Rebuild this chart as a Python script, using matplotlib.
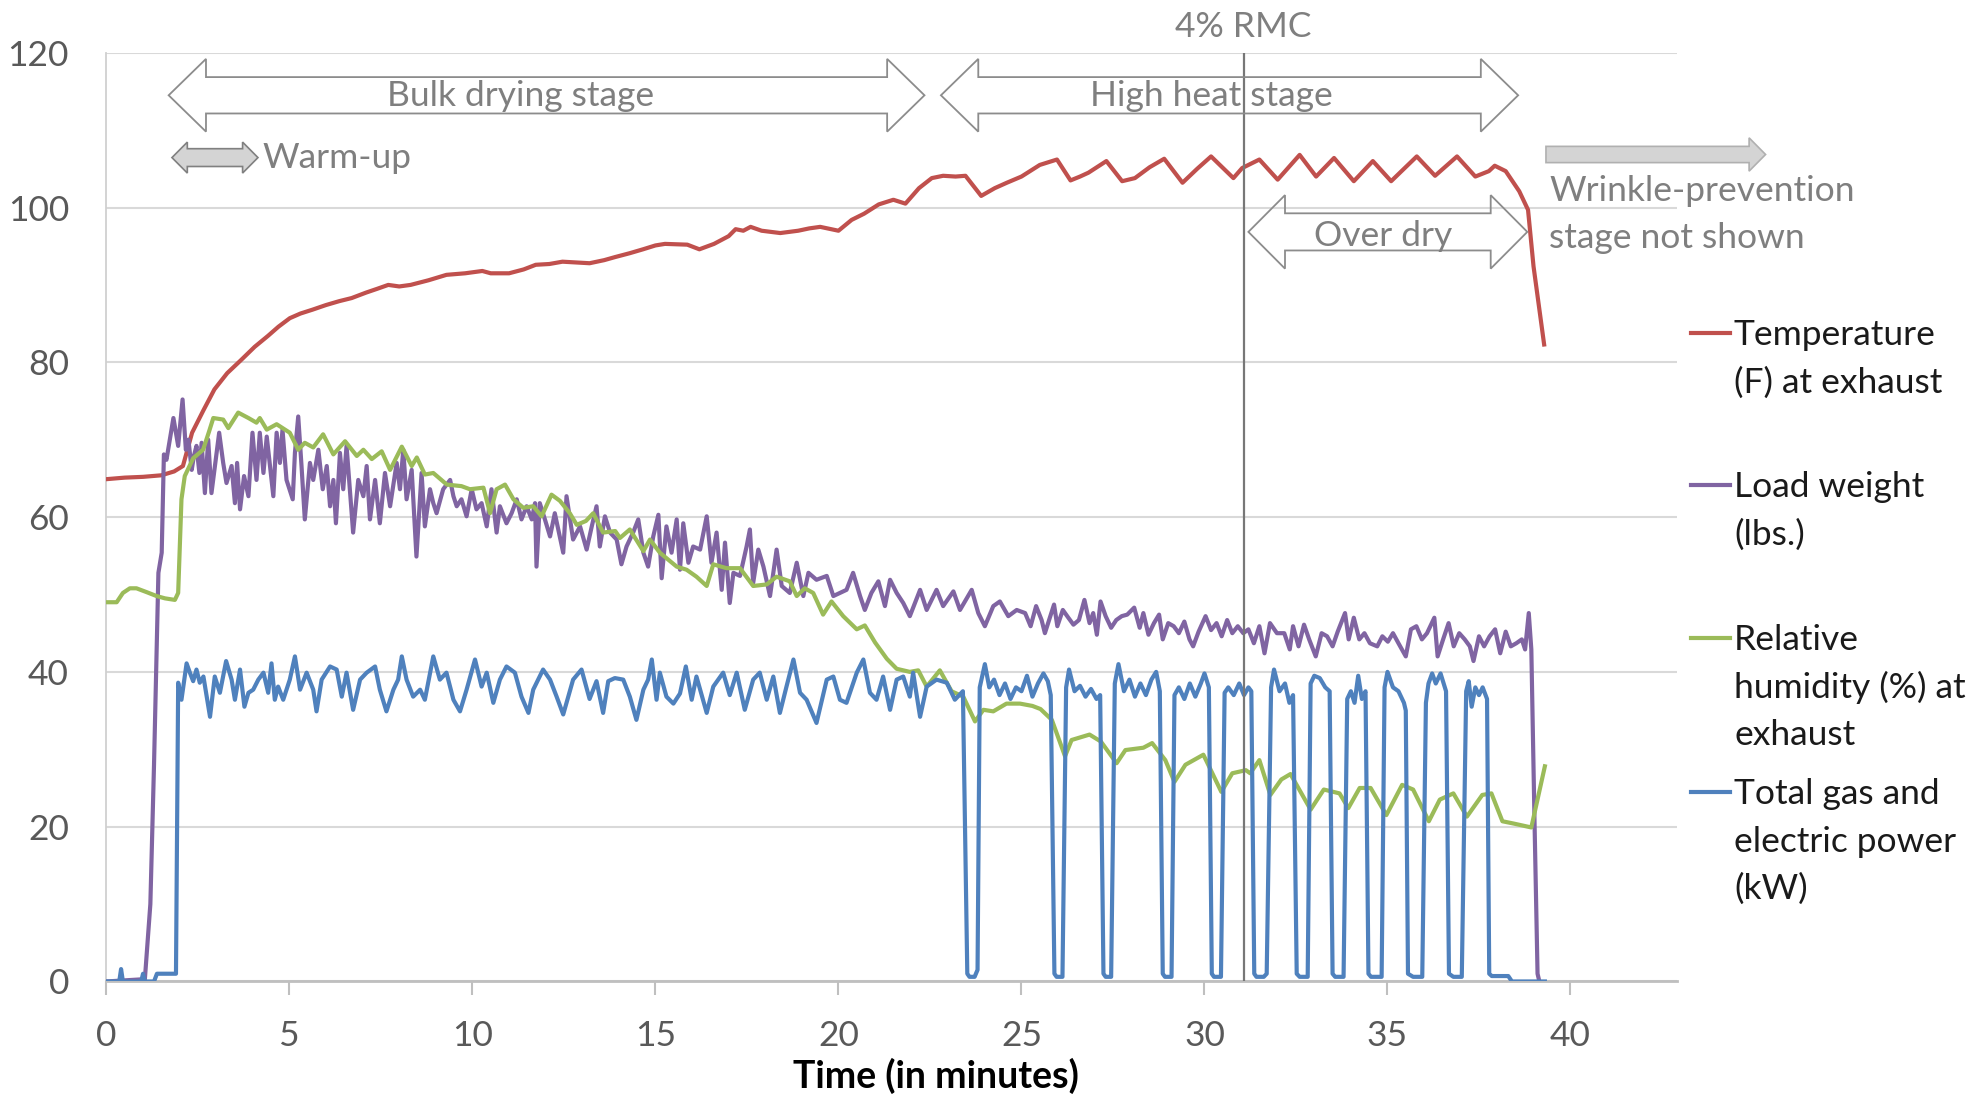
import matplotlib
matplotlib.use("Agg")
import matplotlib.pyplot as plt
import matplotlib.patches as mpatches
from matplotlib.lines import Line2D

plt.rcParams['font.family'] = ['Lato', 'DejaVu Sans']

# ---- data (time in minutes) ----
temp_t = [0.0, 0.5, 1.0, 1.5, 1.85, 2.09, 2.34, 2.65, 2.95, 3.3, 3.68, 4.05, 4.41, 4.7, 5.01, 5.3,
          5.63, 6.0, 6.36, 6.7, 7.09, 7.4, 7.7, 8.0, 8.31, 8.8, 9.29, 9.8, 10.27, 10.5, 11.0, 11.4,
          11.73, 12.1, 12.46, 13.2, 13.6, 13.9, 14.3, 14.66, 15.0, 15.26, 15.87, 16.2, 16.6, 17.0,
          17.19, 17.4, 17.6, 17.9, 18.41, 18.9, 19.2, 19.5, 20.0, 20.36, 20.7, 21.1, 21.5, 21.83,
          22.2, 22.55, 22.86, 23.2, 23.47, 23.9, 24.27, 24.6, 25.0, 25.5, 25.97, 26.34, 26.6, 26.83,
          27.32, 27.75, 28.1, 28.5, 28.9, 29.4, 29.8, 30.18, 30.79, 31.03, 31.5, 32.0, 32.6, 33.05,
          33.54, 34.08, 34.6, 35.1, 35.34, 35.8, 36.3, 36.9, 37.4, 37.77, 37.93, 38.23, 38.6, 38.84,
          38.99, 39.28]
temp = [64.9, 65.1, 65.2, 65.4, 65.9, 66.6, 70.9, 73.8, 76.5, 78.6, 80.3, 82.0, 83.4, 84.6, 85.7, 86.3,
        86.8, 87.4, 87.9, 88.3, 89.0, 89.5, 90.0, 89.8, 90.0, 90.6, 91.3, 91.5, 91.8, 91.5, 91.5, 92.0,
        92.6, 92.7, 93.0, 92.8, 93.2, 93.6, 94.1, 94.6, 95.1, 95.3, 95.2, 94.6, 95.3, 96.3,
        97.2, 97.0, 97.5, 97.0, 96.7, 97.0, 97.3, 97.5, 97.0, 98.4, 99.2, 100.4, 101.0, 100.5,
        102.5, 103.8, 104.1, 104.0, 104.1, 101.5, 102.5, 103.2, 104.0, 105.5, 106.2, 103.5, 104.0, 104.5,
        106.0, 103.4, 103.8, 105.2, 106.3, 103.2, 105.0, 106.6, 103.8, 105.1, 106.2, 103.6, 106.8, 104.0,
        106.4, 103.4, 106.0, 103.4, 104.5, 106.6, 104.1, 106.6, 104.0, 104.7, 105.4, 104.7, 102.1, 99.7,
        92.4, 82.3]

load_t = [0.0, 1.05, 1.2, 1.3, 1.42, 1.51, 1.57, 1.64, 1.83, 1.96, 2.08, 2.17, 2.24, 2.33, 2.39, 2.46,
          2.54, 2.6, 2.69, 2.78, 2.87, 3.08, 3.19, 3.28, 3.42, 3.51, 3.57, 3.65, 3.76, 3.88, 3.99, 4.1,
          4.19, 4.29, 4.38, 4.56, 4.65, 4.74, 4.81, 4.92, 5.09, 5.15, 5.24, 5.33, 5.42, 5.56, 5.65, 5.79,
          5.91, 6.02, 6.11, 6.2, 6.27, 6.38, 6.47, 6.56, 6.74, 6.88, 7.02, 7.11, 7.2, 7.34, 7.47, 7.61,
          7.75, 7.93, 8.02, 8.11, 8.2, 8.34, 8.47, 8.61, 8.7, 8.84, 8.93, 9.02, 9.2, 9.39, 9.48, 9.57,
          9.7, 9.84, 9.98, 10.11, 10.25, 10.39, 10.52, 10.66, 10.75, 10.93, 11.07, 11.21, 11.34, 11.48,
          11.62, 11.71, 11.75, 11.84, 11.98, 12.12, 12.25, 12.48, 12.57, 12.75, 12.94, 13.12, 13.26,
          13.39, 13.48, 13.62, 13.76, 13.94, 14.07, 14.21, 14.39, 14.53, 14.67, 14.8, 14.94, 15.08,
          15.17, 15.3, 15.44, 15.58, 15.67, 15.76, 15.9, 16.03, 16.22, 16.4, 16.53, 16.67, 16.81, 16.9,
          17.03, 17.13, 17.31, 17.49, 17.58, 17.67, 17.81, 17.95, 18.13, 18.31, 18.45, 18.67, 18.86,
          19.04, 19.18, 19.4, 19.68, 19.86, 20.04, 20.22, 20.4, 20.59, 20.72, 20.9, 21.09, 21.27, 21.41,
          21.59, 21.77, 21.95, 22.23, 22.41, 22.68, 22.86, 23.14, 23.32, 23.64, 23.82, 24.0, 24.23,
          24.41, 24.64, 24.87, 25.1, 25.25, 25.4, 25.55, 25.64, 25.79, 25.89, 25.98, 26.13, 26.28,
          26.42, 26.57, 26.72, 26.86, 26.96, 27.06, 27.16, 27.3, 27.45, 27.59, 27.74, 27.89, 28.08,
          28.23, 28.33, 28.47, 28.62, 28.76, 28.86, 29.01, 29.16, 29.3, 29.45, 29.59, 29.69, 29.84,
          30.03, 30.18, 30.33, 30.47, 30.62, 30.76, 30.91, 31.06, 31.2, 31.35, 31.5, 31.64, 31.79,
          31.98, 32.18, 32.33, 32.42, 32.57, 32.72, 32.86, 33.04, 33.2, 33.35, 33.5, 33.64, 33.84,
          33.94, 34.08, 34.23, 34.37, 34.52, 34.72, 34.86, 35.01, 35.15, 35.3, 35.5, 35.64, 35.79,
          35.94, 36.08, 36.28, 36.37, 36.52, 36.67, 36.81, 36.96, 37.11, 37.25, 37.35, 37.5, 37.64,
          37.79, 37.94, 38.08, 38.23, 38.37, 38.52, 38.67, 38.76, 38.86, 38.93, 39.02, 39.1, 39.15]
load = [0.0, 0.3, 10.0, 28.0, 52.8, 55.4, 68.1, 67.4, 72.8, 69.2, 75.2, 68.7, 70.0, 66.1, 67.9, 69.2,
        65.7, 69.6, 63.1, 70.0, 63.1, 70.9, 67.0, 64.4, 66.6, 61.8, 67.0, 61.0, 65.3, 62.7, 70.9, 64.8,
        70.9, 65.7, 70.4, 62.7, 70.9, 67.0, 71.3, 64.8, 62.3, 68.3, 73.0, 66.6, 59.7, 67.0, 64.8, 68.7,
        63.6, 66.6, 61.4, 64.8, 59.2, 68.3, 63.6, 69.2, 58.0, 64.8, 62.7, 66.6, 59.7, 64.8, 59.2, 65.7,
        61.4, 67.0, 63.6, 68.7, 62.3, 66.1, 54.9, 65.7, 58.8, 63.6, 61.8, 60.5, 63.6, 64.8, 62.7, 61.4,
        62.3, 60.1, 63.6, 61.0, 61.8, 58.8, 63.6, 58.0, 61.4, 59.2, 60.5, 62.3, 59.7, 61.4,
        59.7, 61.8, 53.6, 61.8, 59.7, 57.5, 60.5, 55.4, 62.7, 57.1, 58.8, 55.8, 58.8,
        61.4, 56.2, 60.1, 58.0, 57.1, 53.9, 56.2, 58.0, 59.7, 55.4, 53.6, 57.5, 60.3,
        52.1, 58.8, 55.4, 59.7, 53.2, 59.2, 54.1, 56.2, 55.8, 60.1, 54.1, 58.0, 50.6, 56.7,
        48.9, 52.8, 52.4, 56.2, 58.4, 51.5, 55.8, 53.6, 49.8, 55.8, 51.1, 50.2, 54.1,
        49.8, 52.8, 51.9, 52.4, 49.8, 50.2, 50.6, 52.8, 49.8, 48.0, 50.2, 51.7, 48.5, 51.9,
        50.2, 48.9, 47.2, 50.6, 48.0, 50.6, 48.5, 50.4, 48.0, 50.6, 47.6, 45.9, 48.5,
        49.1, 47.2, 48.0, 47.6, 45.9, 48.5, 46.7, 45.0, 47.2, 48.7, 45.9, 48.0, 47.0,
        46.1, 46.7, 49.3, 46.3, 47.6, 44.8, 49.1, 47.2, 45.7, 46.7, 47.2, 47.4, 48.3,
        45.7, 47.6, 44.8, 46.3, 47.4, 44.2, 46.3, 45.9, 45.0, 46.5, 44.2, 43.3, 45.2,
        47.2, 45.4, 46.3, 44.6, 46.7, 45.0, 45.9, 45.0, 45.5, 43.7, 45.9, 42.4, 46.3,
        45.0, 45.0, 42.9, 45.9, 43.3, 46.1, 44.2, 42.0, 45.0, 44.6, 43.3, 45.2, 47.6,
        44.2, 47.0, 44.2, 45.0, 43.7, 43.3, 44.6, 43.9, 45.0, 43.7, 42.0, 45.5, 45.9,
        44.2, 45.0, 47.0, 42.0, 44.2, 46.3, 43.3, 45.0, 44.2, 43.3, 41.4, 44.6, 43.3,
        44.6, 45.5, 42.4, 45.2, 43.3, 43.7, 44.2, 42.9, 47.6, 42.9, 20.0, 1.0, 0.0]

rh_t = [0.0, 0.28, 0.45, 0.64, 0.82, 1.1, 1.37, 1.6, 1.87, 1.96, 2.05, 2.14, 2.37, 2.64, 2.8, 2.92,
        3.19, 3.33, 3.6, 3.88, 4.1, 4.19, 4.38, 4.65, 5.01, 5.24, 5.42, 5.65, 5.92, 6.2, 6.52, 6.84,
        7.02, 7.25, 7.52, 7.75, 8.07, 8.34, 8.48, 8.7, 8.93, 9.3, 9.7, 9.93, 10.3, 10.48, 10.66, 10.89,
        11.12, 11.39, 11.66, 11.89, 12.16, 12.39, 12.66, 12.85, 13.1, 13.3, 13.57, 13.9, 14.03, 14.3,
        14.67, 14.85, 15.12, 15.58, 15.85, 16.12, 16.4, 16.58, 16.94, 17.31, 17.67, 18.04, 18.31,
        18.67, 18.86, 19.08, 19.31, 19.58, 19.81, 20.13, 20.5, 20.72, 21.0, 21.32, 21.59, 21.95,
        22.18, 22.41, 22.77, 23.09, 23.41, 23.73, 23.96, 24.23, 24.59, 24.96, 25.3, 25.52, 25.83,
        26.19, 26.37, 26.86, 27.17, 27.6, 27.84, 28.33, 28.57, 28.93, 29.18, 29.48, 29.97, 30.46,
        30.76, 31.13, 31.25, 31.5, 31.8, 32.1, 32.35, 32.9, 33.26, 33.69, 33.93, 34.24, 34.54, 34.97,
        35.4, 35.7, 36.13, 36.43, 36.8, 37.17, 37.59, 37.84, 38.14, 38.45, 38.93, 39.3]
rh = [49.0, 49.0, 50.2, 50.8, 50.8, 50.3, 49.8, 49.5, 49.3, 50.2, 62.3, 65.3, 67.6, 68.7, 71.0, 72.8,
      72.6, 71.5, 73.5, 72.8, 72.2, 72.8, 71.3, 72.0, 70.9, 68.7, 69.6, 69.0, 70.7, 68.1, 69.8, 67.9,
      68.7, 67.5, 68.5, 66.1, 69.1, 66.6, 67.7, 65.5, 65.7, 64.2, 64.0, 63.6, 63.8, 60.5, 63.6, 64.2,
      62.3, 61.2, 61.4, 60.1, 62.9, 62.1, 60.5, 59.0, 59.5, 60.5, 58.0, 58.2, 57.3, 58.4,
      55.6, 57.1, 55.4, 53.6, 53.2, 52.3, 51.1, 53.9, 53.4, 53.4, 51.1, 51.3, 52.3,
      51.7, 49.8, 50.8, 50.2, 47.4, 49.1, 47.2, 45.5, 46.0, 43.8, 41.7, 40.4, 40.0,
      40.2, 38.1, 40.2, 37.5, 36.8, 33.6, 35.1, 34.9, 35.9, 35.9, 35.6, 35.2, 33.8,
      29.1, 31.2, 31.9, 31.0, 28.2, 29.9, 30.2, 30.8, 28.6, 25.8, 28.0, 29.3, 24.5,
      26.9, 27.3, 26.9, 28.6, 24.1, 26.1, 26.8, 22.2, 24.8, 24.3, 22.4, 25.0, 25.0, 21.5,
      25.4, 24.8, 20.7, 23.5, 24.3, 21.3, 24.1, 24.3, 20.7, 20.4, 19.9, 27.8]

power_t = [0.0, 0.35, 0.4, 0.45, 0.95, 1.0, 1.05, 1.3, 1.38, 1.9, 1.96, 2.05, 2.19, 2.28, 2.37, 2.46,
           2.55, 2.65, 2.74, 2.83, 2.96, 3.1, 3.27, 3.42, 3.51, 3.65, 3.77, 3.88, 4.01, 4.15, 4.29,
           4.42, 4.51, 4.6, 4.69, 4.83, 5.01, 5.15, 5.29, 5.47, 5.65, 5.74, 5.88, 6.11, 6.29, 6.43,
           6.56, 6.74, 6.93, 7.11, 7.34, 7.47, 7.65, 7.84, 7.97, 8.07, 8.2, 8.38, 8.57, 8.7, 8.93,
           9.11, 9.29, 9.48, 9.66, 9.84, 10.07, 10.25, 10.39, 10.57, 10.75, 10.93, 11.16, 11.34,
           11.53, 11.66, 11.93, 12.12, 12.3, 12.48, 12.75, 12.98, 13.2, 13.39, 13.57, 13.71, 13.89,
           14.12, 14.3, 14.48, 14.67, 14.8, 14.9, 15.03, 15.12, 15.3, 15.49, 15.67, 15.83, 15.99,
           16.12, 16.4, 16.58, 16.85, 17.03, 17.22, 17.44, 17.67, 17.85, 18.04, 18.22, 18.4, 18.58,
           18.77, 18.95, 19.13, 19.4, 19.68, 19.86, 20.04, 20.22, 20.5, 20.68, 20.86, 21.04, 21.22,
           21.41, 21.59, 21.77, 21.95, 22.04, 22.23, 22.41, 22.68, 22.96, 23.18, 23.3, 23.4, 23.52,
           23.58, 23.72, 23.8, 23.86, 24.0, 24.12, 24.25, 24.4, 24.55, 24.7, 24.85, 25.0, 25.15,
           25.3, 25.45, 25.6, 25.72, 25.8, 25.9, 25.96, 26.12, 26.22, 26.3, 26.45, 26.6, 26.75,
           26.9, 27.05, 27.15, 27.24, 27.3, 27.45, 27.55, 27.65, 27.8, 27.95, 28.1, 28.25, 28.4,
           28.55, 28.68, 28.78, 28.86, 28.92, 29.1, 29.18, 29.3, 29.45, 29.6, 29.75, 29.9, 30.0,
           30.12, 30.2, 30.26, 30.45, 30.55, 30.65, 30.8, 30.95, 31.08, 31.2, 31.28, 31.36, 31.42,
           31.62, 31.7, 31.82, 31.9, 32.05, 32.2, 32.32, 32.42, 32.52, 32.6, 32.82, 32.9, 33.0,
           33.15, 33.3, 33.42, 33.5, 33.57, 33.8, 33.9, 34.0, 34.1, 34.2, 34.3, 34.4, 34.48, 34.55,
           34.84, 34.92, 35.0, 35.15, 35.3, 35.45, 35.5, 35.56, 35.7, 35.95, 36.05, 36.12, 36.22,
           36.32, 36.45, 36.6, 36.68, 36.8, 37.03, 37.15, 37.22, 37.3, 37.4, 37.5, 37.6, 37.72,
           37.78, 37.85, 38.3, 38.4, 39.3]
power = [0.0, 0.0, 1.6, 0.0, 0.0, 1.0, 0.0, 0.0, 1.0, 1.0, 38.6, 36.4, 41.1, 39.9, 38.8, 40.3,
         38.6, 39.4, 36.8, 34.2, 39.4, 37.3, 41.4, 39.0, 36.4, 40.3, 35.5, 37.3, 37.7, 39.0, 39.9,
         37.3, 41.1, 36.4, 38.1, 36.4, 39.0, 42.0, 37.7, 39.9, 37.7, 34.9, 39.0, 40.7, 40.3, 36.8,
         39.9, 35.1, 39.0, 39.9, 40.7, 37.7, 34.9, 37.7, 39.0, 42.0, 39.0, 36.8, 37.7, 36.4, 42.0,
         39.0, 39.9, 36.4, 34.9, 37.7, 41.6, 38.1, 39.9, 36.0, 39.0, 40.7, 39.9, 36.8,
         34.7, 37.7, 40.3, 39.0, 36.8, 34.5, 39.0, 40.3, 36.5, 38.8, 34.7, 38.8, 39.2,
         39.0, 36.8, 33.8, 37.7, 39.0, 41.6, 36.4, 39.9, 36.8, 35.9, 37.2, 40.7, 36.4,
         39.4, 34.7, 38.1, 39.9, 37.0, 39.9, 35.1, 39.0, 39.9, 36.4, 39.4, 34.7, 38.1,
         41.6, 37.3, 36.4, 33.4, 39.0, 39.4, 36.4, 36.0, 39.9, 41.6, 37.3, 36.4, 39.4,
         35.1, 39.0, 39.4, 36.8, 39.9, 34.2, 38.1, 39.0, 38.6, 36.4, 37.0, 37.5, 1.0,
         0.6, 0.6, 1.5, 38.0, 41.0, 38.0, 39.0, 37.0, 38.5, 36.5, 38.0, 37.5, 39.5,
         36.8, 38.5, 39.8, 38.8, 37.0, 1.0, 0.6, 0.6, 38.0, 40.3, 37.5, 38.2, 36.8,
         37.8, 36.5, 37.0, 1.0, 0.6, 0.6, 38.5, 41.0, 37.5, 39.0, 36.8, 38.5, 37.0,
         39.0, 40.0, 37.5, 1.0, 0.6, 0.6, 37.0, 38.0, 36.5, 38.5, 36.8, 38.5, 39.8,
         38.0, 1.0, 0.6, 0.6, 37.3, 38.0, 37.0, 38.5, 37.0, 38.0, 37.5, 1.0, 0.6,
         0.6, 1.0, 38.0, 40.3, 37.5, 38.5, 36.0, 37.0, 1.0, 0.6, 0.6, 38.5, 39.5,
         39.2, 38.0, 37.5, 1.0, 0.6, 0.6, 36.5, 37.5, 36.0, 39.5, 36.5, 37.5, 1.0, 0.6,
         0.6, 38.0, 40.0, 38.0, 37.5, 36.0, 35.0, 1.0, 0.6, 0.6, 36.0, 38.5, 39.8,
         38.5, 39.8, 37.5, 1.0, 0.6, 0.6, 37.5, 38.8, 35.5, 38.0, 37.0, 38.0, 36.5,
         1.0, 0.7, 0.7, 0.0, 0.0]

series_labels = [["Temperature", "(F) at exhaust"],
                 ["Load weight", "(lbs.)"],
                 ["Relative", "humidity (%) at", "exhaust"],
                 ["Total gas and", "electric power", "(kW)"]]
series_colors = ["#C0504D", "#8064A2", "#9BBB59", "#4F81BD"]

rmc_time = 31.07
FS = 25.5
GRAY_TXT = "#7f7f7f"

fig = plt.figure(figsize=(19.82, 10.96), dpi=100)
ax = fig.add_axes([0.0537, 0.1045, 0.7926, 0.8474])

for i, (tt, vv) in enumerate([(temp_t, temp), (load_t, load), (rh_t, rh), (power_t, power)]):
    ax.plot(tt, vv, color=series_colors[i], lw=3.0, solid_joinstyle='round', zorder=3 + i)

ax.set_xlim(0, 42.92)
ax.set_ylim(0, 120)
ax.set_xticks(range(0, 41, 5))
ax.set_yticks(range(0, 121, 20))
ax.yaxis.grid(True, color="#d9d9d9", lw=1.5)
ax.set_axisbelow(True)
for s in ["top", "right"]:
    ax.spines[s].set_visible(False)
ax.spines["left"].set_color("#d0d0d0")
ax.spines["left"].set_linewidth(1.3)
ax.spines["bottom"].set_color("#bfbfbf")
ax.spines["bottom"].set_linewidth(2)
ax.tick_params(axis="y", length=0, pad=27, labelsize=FS, labelcolor="#595959")
ax.tick_params(axis="x", length=10, width=1.5, color="#bfbfbf", pad=18, labelsize=FS,
               labelcolor="#595959")

# 4% RMC marker line
ax.axvline(rmc_time, color="#777777", lw=1.6, zorder=8)
ax.text(rmc_time, 123.3, "4% RMC", ha="center", va="center", fontsize=FS, color=GRAY_TXT,
        clip_on=False)


def block_arrow(x0, x1, yc, shaft, head, hlen, both=True, **kw):
    if both:
        pts = [(x0, yc), (x0 + hlen, yc + head), (x0 + hlen, yc + shaft), (x1 - hlen, yc + shaft),
               (x1 - hlen, yc + head), (x1, yc), (x1 - hlen, yc - head), (x1 - hlen, yc - shaft),
               (x0 + hlen, yc - shaft), (x0 + hlen, yc - head)]
    else:
        pts = [(x0, yc + shaft), (x1 - hlen, yc + shaft), (x1 - hlen, yc + head), (x1, yc),
               (x1 - hlen, yc - head), (x1 - hlen, yc - shaft), (x0, yc - shaft)]
    ax.add_patch(mpatches.Polygon(pts, closed=True, clip_on=False, zorder=9, **kw))


hollow = dict(facecolor="none", edgecolor="#8c8c8c", lw=1.3)
block_arrow(1.70, 22.35, 114.5, 2.35, 4.7, 1.02, **hollow)
block_arrow(22.8, 38.57, 114.5, 2.35, 4.7, 1.02, **hollow)
block_arrow(31.2, 38.82, 96.85, 2.4, 4.75, 1.0, **hollow)
block_arrow(1.79, 4.14, 106.45, 1.15, 2.0, 0.42, facecolor="#d4d4d4", edgecolor="#808080", lw=1.2)
block_arrow(39.33, 45.33, 106.85, 1.05, 2.15, 0.45, both=False, facecolor="#d4d4d4",
            edgecolor="#b0b0b0", lw=1.2)

ax.text(11.32, 114.4, "Bulk drying stage", ha="center", va="center", fontsize=FS, color=GRAY_TXT,
        zorder=10)
ax.text(30.2, 114.4, "High heat stage", ha="center", va="center", fontsize=FS, color=GRAY_TXT,
        zorder=10)
ax.text(4.25, 106.4, "Warm-up", ha="left", va="center", fontsize=FS, color=GRAY_TXT, zorder=10)
ax.text(34.88, 96.3, "Over dry", ha="center", va="center", fontsize=FS, color=GRAY_TXT, zorder=10)
ax.text(39.42, 102.1, "Wrinkle-prevention", ha="left", va="center", fontsize=FS, color=GRAY_TXT,
        clip_on=False, zorder=10)
ax.text(39.42, 96.1, "stage not shown", ha="left", va="center", fontsize=FS, color=GRAY_TXT,
        clip_on=False, zorder=10)

# legend drawn by hand (Excel style, handle next to the first text line)
W, H = 1982.0, 1096.0
base_px = [345, 497, 650, 804]
pitch = 47.5
for i, lines in enumerate(series_labels):
    yb = base_px[i]
    fig.add_artist(Line2D([1691 / W, 1730 / W], [1 - (yb - 12) / H, 1 - (yb - 12) / H],
                          color=series_colors[i], lw=3.0))
    for k, line in enumerate(lines):
        fig.text(1734 / W, 1 - (yb + k * pitch) / H, line, ha="left", va="baseline",
                 fontsize=FS, color="#1a1a1a")

fig.text(936 / W, 1 - 1076 / H, "Time (in minutes)", ha="center", va="center", fontsize=27,
         fontweight="bold", color="black")

fig.savefig("out.png", dpi=100, facecolor="white")
